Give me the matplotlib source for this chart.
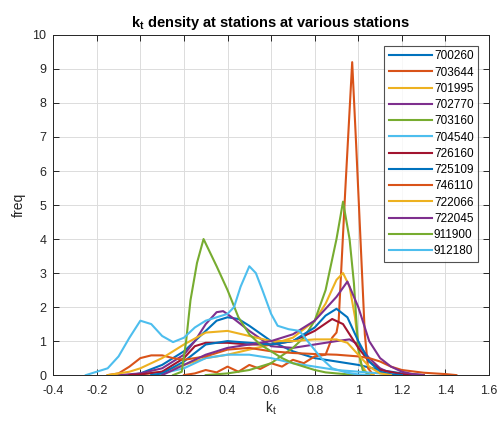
import matplotlib
matplotlib.use("Agg")
import matplotlib.pyplot as plt

plt.rcParams['font.family'] = ['Liberation Sans', 'DejaVu Sans']
plt.rcParams['mathtext.fontset'] = 'custom'
plt.rcParams['mathtext.rm'] = 'Liberation Sans'
plt.rcParams['mathtext.bf'] = 'Liberation Sans:bold'
plt.rcParams['mathtext.it'] = 'Liberation Sans:italic'

stations = ["700260", "703644", "701995", "702770", "703160", "704540", "726160",
            "725109", "746110", "722066", "722045", "911900", "912180"]

x_700260 = [-0.05, 0, 0.1, 0.2, 0.3, 0.35, 0.4, 0.45, 0.5, 0.6, 0.7, 0.8, 0.9, 1.0, 1.1, 1.2, 1.3]
y_700260 = [0, 0.05, 0.3, 0.7, 1.3, 1.6, 1.7, 1.65, 1.45, 1.0, 0.7, 0.5, 0.4, 0.3, 0.15, 0.05, 0]

x_703644 = [0.2, 0.25, 0.3, 0.35, 0.4, 0.45, 0.5, 0.55, 0.6, 0.65, 0.7, 0.75, 0.8, 0.85, 0.88,
            0.9, 0.91, 0.94, 0.972, 0.99, 1.01, 1.03, 1.045, 1.07]
y_703644 = [0, 0.05, 0.15, 0.08, 0.25, 0.1, 0.3, 0.18, 0.35, 0.25, 0.45, 0.35, 0.55, 0.6, 1.1,
            1.25, 1.6, 5.4, 9.2, 6.8, 4.0, 1.2, 0.2, 0]

x_701995 = [-0.05, 0, 0.1, 0.2, 0.3, 0.4, 0.5, 0.6, 0.7, 0.8, 0.85, 0.9, 0.93, 0.96, 0.985, 1.01, 1.04, 1.07]
y_701995 = [0, 0.02, 0.1, 0.3, 0.5, 0.6, 0.75, 0.9, 1.1, 1.6, 2.1, 2.8, 3.0, 2.6, 1.7, 0.35, 0.05, 0]

x_702770 = [-0.1, 0, 0.1, 0.2, 0.25, 0.3, 0.35, 0.38, 0.42, 0.5, 0.6, 0.7, 0.8, 0.9, 0.96, 1.0, 1.05, 1.1, 1.15, 1.2]
y_702770 = [0, 0.05, 0.2, 0.6, 1.0, 1.5, 1.85, 1.88, 1.7, 1.3, 0.85, 0.8, 0.9, 1.0, 1.05, 0.9, 0.5, 0.2, 0.05, 0]

x_703160 = [0.3, 0.4, 0.5, 0.6, 0.7, 0.75, 0.8, 0.85, 0.9, 0.93, 0.96, 0.98, 1.0, 1.02, 1.05]
y_703160 = [0, 0.05, 0.15, 0.35, 0.8, 1.1, 1.6, 2.5, 4.0, 5.1, 4.0, 2.7, 0.75, 0.15, 0]

x_704540 = [0.05, 0.1, 0.2, 0.3, 0.4, 0.5, 0.6, 0.7, 0.8, 0.9, 1.0, 1.1, 1.2, 1.3]
y_704540 = [0, 0.05, 0.2, 0.5, 0.6, 0.6, 0.5, 0.35, 0.25, 0.15, 0.1, 0.05, 0.02, 0]

x_726160 = [-0.05, 0, 0.1, 0.2, 0.25, 0.3, 0.4, 0.5, 0.6, 0.7, 0.8, 0.88, 0.93, 1.0, 1.05, 1.1, 1.2, 1.3]
y_726160 = [0, 0.02, 0.1, 0.5, 0.85, 0.95, 0.95, 0.9, 0.9, 1.0, 1.3, 1.65, 1.5, 0.8, 0.4, 0.15, 0.03, 0]

x_725109 = [0.05, 0.1, 0.2, 0.3, 0.4, 0.5, 0.6, 0.7, 0.8, 0.85, 0.9, 0.95, 1.0, 1.05, 1.1, 1.15, 1.2]
y_725109 = [0, 0.05, 0.4, 0.9, 1.0, 0.95, 0.9, 1.0, 1.4, 1.75, 1.95, 1.7, 1.0, 0.4, 0.1, 0.02, 0]

x_746110 = [-0.15, -0.1, -0.05, 0, 0.05, 0.1, 0.15, 0.2, 0.3, 0.4, 0.5, 0.6, 0.7, 0.8, 0.9, 1.0,
            1.05, 1.1, 1.15, 1.2, 1.3, 1.4, 1.45]
y_746110 = [0, 0.05, 0.25, 0.5, 0.58, 0.58, 0.5, 0.45, 0.55, 0.75, 0.8, 0.7, 0.65, 0.62, 0.6, 0.55,
            0.5, 0.4, 0.25, 0.15, 0.07, 0.03, 0]

x_722066 = [-0.15, -0.05, 0, 0.1, 0.2, 0.3, 0.4, 0.5, 0.6, 0.7, 0.8, 0.9, 0.95, 1.0, 1.05, 1.1, 1.15]
y_722066 = [0, 0.1, 0.2, 0.5, 0.9, 1.25, 1.3, 1.15, 1.0, 1.0, 1.05, 1.05, 0.95, 0.6, 0.25, 0.05, 0]

x_722045 = [0.1, 0.2, 0.3, 0.4, 0.5, 0.6, 0.7, 0.8, 0.9, 0.95, 1.0, 1.05, 1.1, 1.15, 1.2, 1.25, 1.3]
y_722045 = [0, 0.3, 0.6, 0.8, 0.9, 1.0, 1.2, 1.6, 2.3, 2.75, 2.0, 1.0, 0.5, 0.25, 0.1, 0.03, 0]

x_911900 = [0.15, 0.19, 0.21, 0.23, 0.26, 0.29, 0.35, 0.4, 0.45, 0.5, 0.55, 0.6, 0.65, 0.7, 0.75,
            0.8, 0.85, 0.9, 1.0]
y_911900 = [0, 0.1, 1.0, 2.2, 3.3, 4.0, 3.2, 2.5, 1.7, 1.2, 0.9, 0.7, 0.5, 0.35, 0.25,
            0.15, 0.08, 0.05, 0]

x_912180 = [-0.25, -0.15, -0.1, -0.05, 0, 0.05, 0.1, 0.15, 0.2, 0.25, 0.3, 0.35, 0.4, 0.43, 0.46,
            0.5, 0.53, 0.56, 0.6, 0.63, 0.68, 0.73, 0.78, 0.83, 0.88, 0.95, 1.0, 1.05]
y_912180 = [0, 0.2, 0.55, 1.1, 1.6, 1.5, 1.15, 0.97, 1.1, 1.4, 1.6, 1.7, 1.8, 2.0, 2.6,
            3.2, 3.0, 2.5, 1.8, 1.45, 1.35, 1.3, 0.9, 0.5, 0.2, 0.07, 0.02, 0]

series = [(x_700260, y_700260), (x_703644, y_703644), (x_701995, y_701995),
          (x_702770, y_702770), (x_703160, y_703160), (x_704540, y_704540),
          (x_726160, y_726160), (x_725109, y_725109), (x_746110, y_746110),
          (x_722066, y_722066), (x_722045, y_722045), (x_911900, y_911900),
          (x_912180, y_912180)]

colors = ["#0072BD", "#D95319", "#EDB120", "#7E2F8E", "#77AC30", "#4DBEEE", "#A2142F"]

fig = plt.figure(figsize=(4.97, 4.21), dpi=100)
ax = fig.add_axes([0.107, 0.109, 0.877, 0.808])

for i, (name, (xs, ys)) in enumerate(zip(stations, series)):
    ax.plot(xs, ys, color=colors[i % 7], lw=1.5, label=name)

ax.set_xlim(-0.4, 1.6)
ax.set_ylim(0, 10)
ax.set_xticks([-0.4, -0.2, 0, 0.2, 0.4, 0.6, 0.8, 1.0, 1.2, 1.4, 1.6])
ax.set_xticklabels(["-0.4", "-0.2", "0", "0.2", "0.4", "0.6", "0.8", "1", "1.2", "1.4", "1.6"])
ax.set_yticks(range(0, 11))
ax.grid(True, color="#DCDCDC", lw=0.7)
ax.set_axisbelow(True)
ax.tick_params(direction="in", top=True, right=True, labelsize=9, colors="#262626",
               length=4, width=0.7)
ax.tick_params(axis="x", pad=7)
ax.tick_params(axis="y", pad=5)
for s in ax.spines.values():
    s.set_color("#262626")
    s.set_linewidth(0.7)

ax.set_title(r"$\mathbf{k_t}$ density at stations at various stations",
             fontsize=10.5, fontweight="bold", color="#000000", pad=6)
ax.set_xlabel(r"$\mathrm{k_t}$", fontsize=10, color="#262626", labelpad=2)
ax.set_ylabel("freq", fontsize=10, color="#262626", labelpad=5)

leg = ax.legend(loc="upper right", fontsize=8.5, frameon=True, fancybox=False,
                edgecolor="#262626", handlelength=3.6, labelspacing=0.36,
                borderpad=0.4, handletextpad=0.2, borderaxespad=0.9)
leg.get_frame().set_linewidth(0.8)

fig.savefig("out.png", dpi=100)
